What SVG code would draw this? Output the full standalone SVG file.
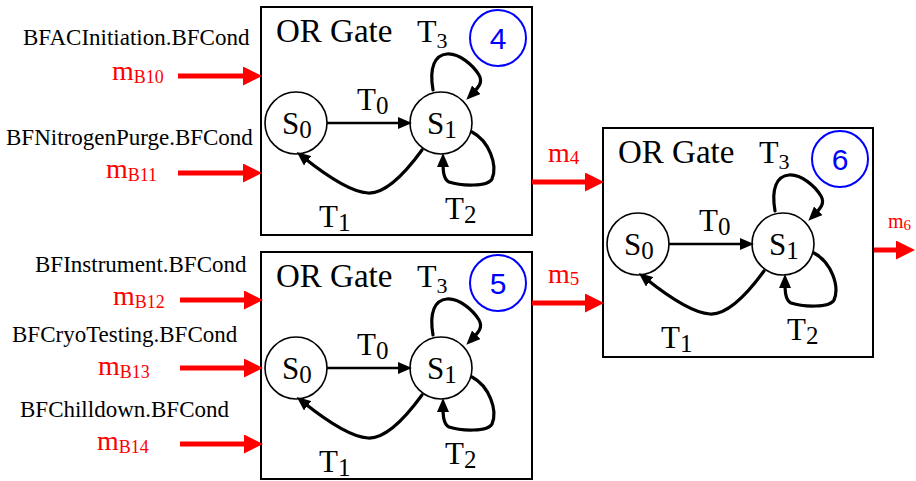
<svg xmlns="http://www.w3.org/2000/svg" width="916" height="481" viewBox="0 0 916 481">
<style>
.box{fill:#fff;stroke:#000;stroke-width:2}
.st{fill:#fff;stroke:#000;stroke-width:1.6}
.tr{fill:none;stroke:#000;stroke-width:3.2;stroke-linecap:round;marker-end:url(#ab)}
.t0{fill:none;stroke:#000;stroke-width:2.6;marker-end:url(#ab)}
.num{fill:none;stroke:#0000ff;stroke-width:2}
.numt{font-family:"Liberation Sans",Arial,sans-serif;font-size:30px;fill:#0000ff;text-anchor:middle}
.lb{font-family:"Liberation Serif","Times New Roman",serif;fill:#000}
.big{font-size:33px}
.mid{font-size:31px}
.in{font-family:"Liberation Serif","Times New Roman",serif;font-size:23px;fill:#000}
.rl{font-family:"Liberation Serif","Times New Roman",serif;font-size:28px;fill:#ff0000}
.rs{font-family:"Liberation Serif","Times New Roman",serif;font-size:20px;fill:#ff0000}
.ra{stroke:#ff0000;stroke-width:5;fill:none;marker-end:url(#ar)}
</style>
<defs>
<marker id="ab" markerUnits="userSpaceOnUse" markerWidth="14" markerHeight="12" refX="6" refY="6" orient="auto">
<path d="M0,0 L14,6 L0,12 z" fill="#000"/>
</marker>
<marker id="ar" markerUnits="userSpaceOnUse" markerWidth="19" markerHeight="19" refX="8" refY="9.5" orient="auto">
<path d="M0,0 L19,9.5 L0,19 z" fill="#ff0000"/>
</marker>
</defs>
<rect width="916" height="481" fill="#fff"/>

<g id="gate4" transform="translate(261,7)">
<rect class="box" x="0" y="0" width="271" height="228"/>
<text class="lb big" x="15" y="35">OR Gate</text>
<text class="lb" x="156" y="35" font-size="32">T<tspan font-size="22" dy="6">3</tspan></text>
<circle class="num" cx="237" cy="31" r="28"/>
<text class="numt" x="237" y="42">4</text>
<circle class="st" cx="35" cy="116" r="31"/>
<circle class="st" cx="180" cy="116" r="31"/>
<text class="lb mid" x="21" y="127">S<tspan font-size="25" dy="4">0</tspan></text>
<text class="lb mid" x="166" y="127">S<tspan font-size="25" dy="4">1</tspan></text>
<path class="t0" d="M66,116 L143,116"/>
<text class="lb mid" x="96" y="103">T<tspan font-size="25" dy="4">0</tspan></text>
<path class="tr" d="M172,83 C168,60 174,48 186,47 C198,46 212,58 218,68 C222,75 218,80 211,87"/>
<path class="tr" d="M211,125 C228,134 237,158 231,172 C227,180 200,179 188,175 C182,172 182,162 182,154"/>
<path class="tr" d="M161,143 C145,165 125,187 107,186 C88,185 62,166 42,150"/>
<text class="lb mid" x="58" y="220">T<tspan font-size="25" dy="4">1</tspan></text>
<text class="lb mid" x="184" y="212">T<tspan font-size="25" dy="4">2</tspan></text>
</g>

<g id="gate5" transform="translate(261,252)">
<rect class="box" x="0" y="0" width="271" height="227"/>
<text class="lb big" x="15" y="35">OR Gate</text>
<text class="lb" x="156" y="35" font-size="32">T<tspan font-size="22" dy="6">3</tspan></text>
<circle class="num" cx="237" cy="31" r="28"/>
<text class="numt" x="237" y="42">5</text>
<circle class="st" cx="35" cy="116" r="31"/>
<circle class="st" cx="180" cy="116" r="31"/>
<text class="lb mid" x="21" y="127">S<tspan font-size="25" dy="4">0</tspan></text>
<text class="lb mid" x="166" y="127">S<tspan font-size="25" dy="4">1</tspan></text>
<path class="t0" d="M66,116 L143,116"/>
<text class="lb mid" x="96" y="103">T<tspan font-size="25" dy="4">0</tspan></text>
<path class="tr" d="M172,83 C168,60 174,48 186,47 C198,46 212,58 218,68 C222,75 218,80 211,87"/>
<path class="tr" d="M211,125 C228,134 237,158 231,172 C227,180 200,179 188,175 C182,172 182,162 182,154"/>
<path class="tr" d="M161,143 C145,165 125,187 107,186 C88,185 62,166 42,150"/>
<text class="lb mid" x="58" y="220">T<tspan font-size="25" dy="4">1</tspan></text>
<text class="lb mid" x="184" y="212">T<tspan font-size="25" dy="4">2</tspan></text>
</g>

<g id="gate6" transform="translate(603,128)">
<rect class="box" x="0" y="0" width="270" height="229"/>
<text class="lb big" x="15" y="35">OR Gate</text>
<text class="lb" x="156" y="35" font-size="32">T<tspan font-size="22" dy="6">3</tspan></text>
<circle class="num" cx="237" cy="31" r="28"/>
<text class="numt" x="237" y="42">6</text>
<circle class="st" cx="35" cy="116" r="31"/>
<circle class="st" cx="180" cy="116" r="31"/>
<text class="lb mid" x="21" y="127">S<tspan font-size="25" dy="4">0</tspan></text>
<text class="lb mid" x="166" y="127">S<tspan font-size="25" dy="4">1</tspan></text>
<path class="t0" d="M66,116 L143,116"/>
<text class="lb mid" x="96" y="103">T<tspan font-size="25" dy="4">0</tspan></text>
<path class="tr" d="M172,83 C168,60 174,48 186,47 C198,46 212,58 218,68 C222,75 218,80 211,87"/>
<path class="tr" d="M211,125 C228,134 237,158 231,172 C227,180 200,179 188,175 C182,172 182,162 182,154"/>
<path class="tr" d="M161,143 C145,165 125,187 107,186 C88,185 62,166 42,150"/>
<text class="lb mid" x="58" y="220">T<tspan font-size="25" dy="4">1</tspan></text>
<text class="lb mid" x="184" y="212">T<tspan font-size="25" dy="4">2</tspan></text>
</g>

<g id="inputs">
<text class="in" x="23" y="45">BFACInitiation.BFCond</text>
<text class="in" x="6" y="145">BFNitrogenPurge.BFCond</text>
<text class="in" x="35" y="272">BFInstrument.BFCond</text>
<text class="in" x="12" y="342">BFCryoTesting.BFCond</text>
<text class="in" x="20" y="417">BFChilldown.BFCond</text>
<text class="rl" x="112" y="80">m<tspan font-size="18" dy="3">B10</tspan></text>
<text class="rl" x="106" y="178">m<tspan font-size="18" dy="3">B11</tspan></text>
<text class="rl" x="113" y="305">m<tspan font-size="18" dy="3">B12</tspan></text>
<text class="rl" x="98" y="375">m<tspan font-size="18" dy="3">B13</tspan></text>
<text class="rl" x="97" y="450">m<tspan font-size="18" dy="3">B14</tspan></text>
<text class="rl" x="548" y="162">m<tspan font-size="19" dy="2">4</tspan></text>
<text class="rl" x="548" y="283">m<tspan font-size="19" dy="2">5</tspan></text>
<text class="rs" x="888" y="228">m<tspan font-size="15" dy="2">6</tspan></text>
</g>

<g id="connectors">
<line class="ra" x1="178" y1="76" x2="251" y2="76"/>
<line class="ra" x1="178" y1="173" x2="251" y2="173"/>
<line class="ra" x1="180" y1="300" x2="252" y2="300"/>
<line class="ra" x1="180" y1="368" x2="252" y2="368"/>
<line class="ra" x1="180" y1="444" x2="252" y2="444"/>
<line class="ra" x1="532" y1="182" x2="593" y2="182"/>
<line class="ra" x1="532" y1="303" x2="593" y2="303"/>
<line class="ra" x1="874" y1="250" x2="904" y2="250"/>
</g>
</svg>
